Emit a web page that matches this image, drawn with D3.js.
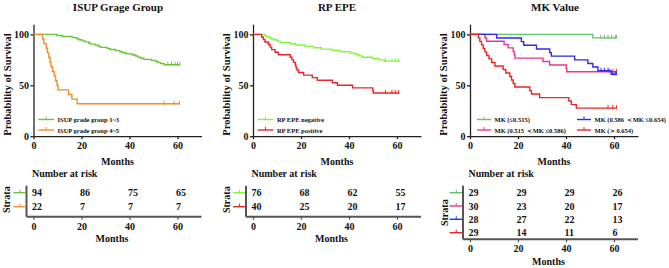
<!DOCTYPE html>
<html><head><meta charset="utf-8">
<script src="https://cdn.jsdelivr.net/npm/d3@7/dist/d3.min.js"></script>
<style>
body{margin:0;background:#fff}
svg{display:block}
text{font-family:"Liberation Serif","Times New Roman",serif;font-weight:bold;fill:#111}
</style>
</head><body><svg id="c" width="669" height="268"></svg>
<script>
// ---------------- DATA ----------------
const xTickValues = [0, 20, 40, 60];
const yTickValues = [0, 50, 100];
const riskMonths = [0, 20, 40, 60];

// Panel 1: ISUP grade group
const isupTitle = "ISUP Grage Group";
const isupNames = ["ISUP grade group 1~3", "ISUP grade group 4~5"];
const isupLowSteps = [[9.8,98.9],[12,97.9],[16.1,96.8],[18.1,95.7],[18.8,94.7],[20.2,93.6],[21.6,92.6],[23,91.5],[23.7,90.4],[25.8,89.4],[27,88.3],[27.9,87.2],[30.7,86.2],[32,85.1],[34.2,84.0],[36,83.0],[37,81.9],[38.5,80.9],[41.2,79.8],[42.6,78.7],[43.5,77.7],[44.6,76.6],[46,75.5],[49,74.5],[50.9,73.4],[52,72.3],[53,71.3],[54.4,70.2]];
const isupLowCensor = [56, 57.5, 59, 60, 61];
const isupHighSteps = [[3.8,95.5],[4.3,90.9],[5.3,86.4],[5.8,81.8],[6.4,77.3],[6.9,72.7],[7.3,68.2],[7.9,63.6],[8.6,59.1],[9.2,54.5],[9.8,50.0],[10.2,45.5],[14.6,40.9],[16.0,36.4],[18.2,31.8]];
const isupHighCensor = [54.4, 58.6, 60.8];
const isupRisk = [[94, 86, 75, 65], [22, 7, 7, 7]];

// Panel 2: RP EPE
const epeTitle = "RP EPE";
const epeNames = ["RP EPE negative", "RP EPE positive"];
const epeNegSteps = [[5.0,98.7],[5.7,97.4],[7.1,96.1],[8.5,94.7],[9.9,93.4],[11.3,92.1],[15.5,90.8],[17.6,89.5],[21.8,88.2],[25.2,86.8],[28.5,85.5],[32.9,84.2],[36.4,82.9],[40.6,81.6],[42.7,80.3],[44.1,78.9],[45.5,77.6],[49.7,76.3],[52.5,75.0],[55,73.7]];
const epeNegCensor = [55.2, 57.9, 59.3, 60.7];
const epePosSteps = [[3.6,97.5],[4.3,95],[5.0,92.5],[6.4,90],[7.1,87.5],[7.8,85],[9.2,82.5],[10.6,80],[15.5,77.5],[16.2,75],[16.9,72.5],[17.6,70],[17.9,67.5],[18.3,65],[19.0,62.5],[21.1,60],[24.7,57.5],[26.8,55],[33.1,52.5],[35.2,50],[41.5,47.5],[49.9,45],[50.1,42.5]];
const epePosCensor = [55.2, 57.9, 59.3, 60.7];
const epeRisk = [[76, 68, 62, 55], [40, 25, 20, 17]];

// Panel 3: MK value
const mkTitle = "MK Value";
const mkNames = ["MK (\u22640.515)", "MK (0.515 \uFF1CMK \u22640.586)", "MK (0.586 \uFF1CMK \u22640.654)", "MK (\uFF1E0.654)"];
const mkLowSteps = [[51.2,96.6]];
const mkLowCensor = [54.5, 56, 57.5, 59, 60.5, 61];
const mkMidLowSteps = [[6.2,96.7],[6.9,93.3],[14.2,90],[15.9,86.7],[18.0,83.3],[18.4,80],[18.7,76.7],[30.4,73.3],[33.2,70],[40.1,66.7],[40.3,63.3]];
const mkMidLowCensor = [58, 59.5, 61];
const mkMidHighSteps = [[11.1,96.4],[21.4,92.9],[22.4,89.3],[27.7,85.7],[33.2,82.1],[33.9,78.6],[43.6,75.0],[49.1,71.4],[51.2,67.9],[53.3,64.3],[58.8,60.8]];
const mkMidHighCensor = [54.6, 56, 57.5, 59.5, 60.5, 61];
const mkHighSteps = [[3.5,96.6],[4.1,93.1],[4.8,89.7],[5.5,86.2],[6.2,82.8],[6.9,79.3],[7.9,75.9],[9.0,72.4],[10.4,69.0],[13.8,65.5],[14.9,62.1],[16.6,58.6],[17.3,55.2],[18.0,51.7],[18.7,48.3],[24.9,44.8],[25.6,41.4],[29.0,37.9],[41.2,34.5],[42.2,31.0],[44.3,27.6]];
const mkHighCensor = [57.5, 59.5, 61];
const mkRisk = [[29, 29, 29, 26], [30, 23, 20, 17], [28, 27, 22, 13], [29, 14, 11, 6]];

// ---------------- LAYOUT / STYLE ----------------
const panels = [
  {title: isupTitle, x0: 33.5, titleX: 118, ylabX: 7, strataX: 6,
   series: [
     {name: isupNames[0], steps: isupLowSteps, censor: isupLowCensor, color: "#6cc43a", risk: isupRisk[0]},
     {name: isupNames[1], steps: isupHighSteps, censor: isupHighCensor, color: "#f28c28", risk: isupRisk[1]}],
   legend: [{x: 38.3, y: 119.5}, {x: 38.3, y: 130}], legLen: 15.7,
   rowY: [192.7, 206.7], tAxisY: 216.7, markX: 13.3},
  {title: epeTitle, x0: 253, titleX: 337, ylabX: 226.5, strataX: 226,
   series: [
     {name: epeNames[0], steps: epeNegSteps, censor: epeNegCensor, color: "#84f43c", risk: epeRisk[0]},
     {name: epeNames[1], steps: epePosSteps, censor: epePosCensor, color: "#e8262a", risk: epeRisk[1]}],
   legend: [{x: 257.7, y: 119.5}, {x: 257.7, y: 130}], legLen: 15.7,
   rowY: [192.7, 206.7], tAxisY: 216.7, markX: 233},
  {title: mkTitle, x0: 470, titleX: 555, ylabX: 443, strataX: 444,
   series: [
     {name: mkNames[0], steps: mkLowSteps, censor: mkLowCensor, color: "#5fc46a", risk: mkRisk[0]},
     {name: mkNames[1], steps: mkMidLowSteps, censor: mkMidLowCensor, color: "#e8388e", risk: mkRisk[1]},
     {name: mkNames[2], steps: mkMidHighSteps, censor: mkMidHighCensor, color: "#2a2af0", risk: mkRisk[2]},
     {name: mkNames[3], steps: mkHighSteps, censor: mkHighCensor, color: "#ec2424", risk: mkRisk[3]}],
   legend: [{x: 477, y: 119.5}, {x: 477, y: 130}, {x: 577, y: 119.5}, {x: 577, y: 130}], legLen: 14,
   rowY: [192.7, 206, 219.3, 232.7], tAxisY: 239.3, markX: 449.5}
];

const svg = d3.select("#c");
const END_T = 61;

panels.forEach(p => {
  const g = svg.append("g");
  const x = d3.scaleLinear().domain([0, 70]).range([p.x0, p.x0 + 168]);
  const y = d3.scaleLinear().domain([0, 110]).range([136.2, 24.2]);

  // title
  g.append("text").attr("x", p.titleX).attr("y", 10.5).attr("text-anchor", "middle")
    .style("font-size", "11px").text(p.title);

  // y label
  g.append("text").attr("transform", `translate(${p.ylabX},${84.5}) rotate(-90)`)
    .attr("text-anchor", "middle").attr("dominant-baseline", "central")
    .style("font-size", "10.5px").text("Probability of Survival");

  // axes
  const ya = g.append("g").attr("transform", `translate(${p.x0},0)`)
    .call(d3.axisLeft(y).tickValues(yTickValues).tickSize(3).tickSizeOuter(0).tickPadding(1.5));
  const xa = g.append("g").attr("transform", `translate(0,${y(0)})`)
    .call(d3.axisBottom(x).tickValues(xTickValues).tickSize(3).tickSizeOuter(0).tickPadding(3));
  [ya, xa].forEach(a => {
    a.selectAll("path,line").attr("stroke", "#222").attr("stroke-width", 1.3);
    a.selectAll("text").style("font-size", "10px").style("font-family", '"Liberation Serif",serif').attr("fill", "#111");
  });
  g.append("text").attr("x", (x(0) + x(70)) / 2).attr("y", 161).attr("text-anchor", "middle")
    .attr("dominant-baseline", "central").style("font-size", "10px").text("Months");

  // curves
  p.series.forEach(s => {
    let d = `M${x(0)},${y(100)}`;
    let prev = 100;
    s.steps.forEach(([t, v]) => { d += `L${x(t)},${y(prev)}L${x(t)},${y(v)}`; prev = v; });
    d += `L${x(END_T)},${y(prev)}`;
    g.append("path").attr("d", d).attr("fill", "none").attr("stroke", s.color).attr("stroke-width", 1.4);
    s.censor.forEach(t => {
      let v = 100;
      s.steps.forEach(([tt, vv]) => { if (tt <= t) v = vv; });
      g.append("line").attr("x1", x(t)).attr("x2", x(t)).attr("y1", y(v) - 3).attr("y2", y(v) + 1)
        .attr("stroke", s.color).attr("stroke-width", 1);
    });
  });

  // legend
  p.series.forEach((s, i) => {
    const L = p.legend[i];
    g.append("line").attr("x1", L.x).attr("x2", L.x + p.legLen).attr("y1", L.y).attr("y2", L.y)
      .attr("stroke", s.color).attr("stroke-width", 1.4);
    g.append("line").attr("x1", L.x + p.legLen / 2).attr("x2", L.x + p.legLen / 2).attr("y1", L.y - 3).attr("y2", L.y)
      .attr("stroke", s.color).attr("stroke-width", 1);
    g.append("text").attr("x", L.x + p.legLen + 3.5).attr("y", L.y).attr("dominant-baseline", "central")
      .style("font-size", "6.5px").text(s.name);
  });

  // risk table
  g.append("text").attr("x", p.x0 - 1.5).attr("y", 173.5).attr("dominant-baseline", "central")
    .style("font-size", "10px").text("Number at risk");
  const xv = p.x0 - 7;
  const top = p.rowY[0] - 7;
  g.append("line").attr("x1", xv).attr("x2", xv).attr("y1", top).attr("y2", p.tAxisY)
    .attr("stroke", "#555").attr("stroke-width", 2);
  const ta = g.append("g").attr("transform", `translate(0,${p.tAxisY})`)
    .call(d3.axisBottom(x).tickValues(riskMonths).tickSize(3).tickSizeOuter(0).tickPadding(3));
  ta.select(".domain").remove();
  ta.selectAll("line").attr("stroke", "#555").attr("stroke-width", 1.2);
  ta.selectAll("text").style("font-size", "10px").style("font-family", '"Liberation Serif",serif').attr("fill", "#111");
  g.append("line").attr("x1", xv).attr("x2", x(70)).attr("y1", p.tAxisY).attr("y2", p.tAxisY)
    .attr("stroke", "#555").attr("stroke-width", 2);
  g.append("text").attr("x", (xv + x(70)) / 2 - 2).attr("y", p.tAxisY + 22).attr("text-anchor", "middle")
    .attr("dominant-baseline", "central").style("font-size", "10px").text("Months");
  g.append("text").attr("transform", `translate(${p.strataX},${(p.rowY[0] + p.rowY[p.rowY.length - 1]) / 2}) rotate(-90)`)
    .attr("text-anchor", "middle").attr("dominant-baseline", "central")
    .style("font-size", "10px").text("Strata");
  p.series.forEach((s, i) => {
    const ry = p.rowY[i];
    g.append("line").attr("x1", p.markX).attr("x2", xv - 1).attr("y1", ry).attr("y2", ry)
      .attr("stroke", s.color).attr("stroke-width", 1.4);
    const mx = (p.markX + xv) / 2;
    g.append("line").attr("x1", mx).attr("x2", mx).attr("y1", ry - 3).attr("y2", ry)
      .attr("stroke", s.color).attr("stroke-width", 1);
    s.risk.forEach((n, j) => {
      g.append("text").attr("x", x(riskMonths[j]) - 1.5).attr("y", ry).attr("dominant-baseline", "central")
        .style("font-size", "10px").text(n);
    });
  });
});
</script>
</body></html>
